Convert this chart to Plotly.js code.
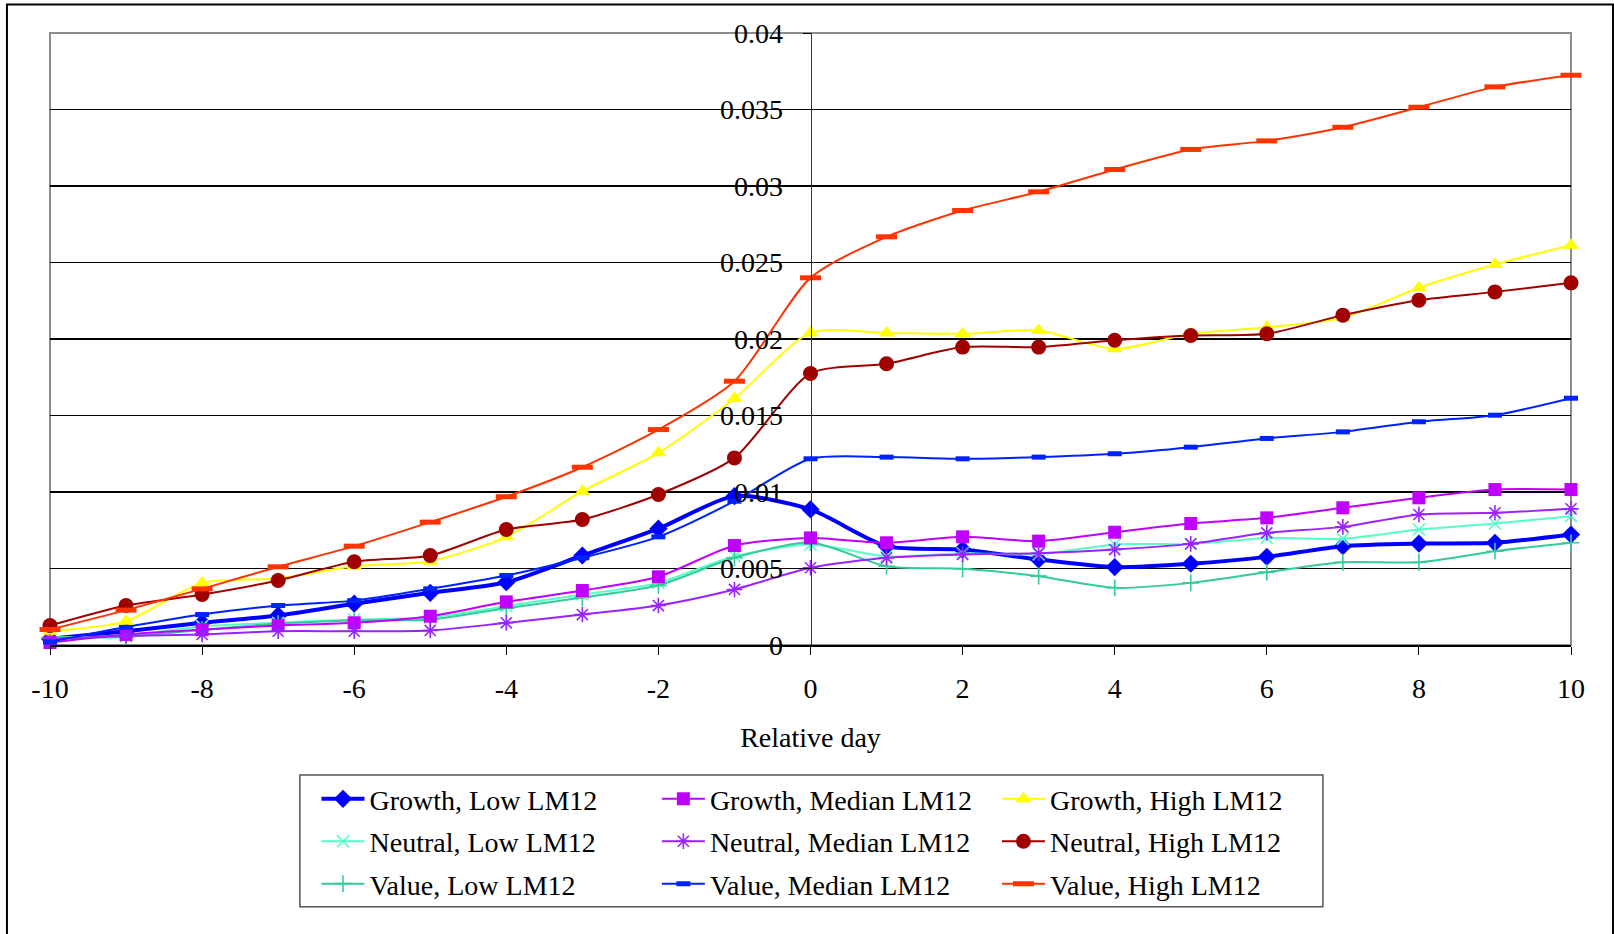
<!DOCTYPE html>
<html>
<head>
<meta charset="utf-8">
<script src="https://cdn.plot.ly/plotly-3.0.1.min.js"></script>
<style>
  html, body { margin: 0; padding: 0; background: #ffffff; }
  #chart { width: 1614px; height: 934px; }
</style>
</head>
<body>
<div id="chart"></div>
<script>
// ---- Data ----
const days = [-10, -9, -8, -7, -6, -5, -4, -3, -2, -1, 0, 1, 2, 3, 4, 5, 6, 7, 8, 9, 10];

const growthLow   = [0.0004, 0.0009, 0.00145, 0.00193, 0.0027, 0.00341, 0.0041, 0.00585, 0.0076, 0.00973, 0.00886, 0.00646, 0.00624, 0.00559, 0.00509, 0.00531, 0.00576, 0.00646, 0.00663, 0.00668, 0.00722];
const growthMed   = [0.00016, 0.00069, 0.001, 0.00127, 0.00145, 0.00188, 0.00282, 0.00356, 0.00446, 0.0065, 0.007, 0.00668, 0.00707, 0.00679, 0.00737, 0.00794, 0.00831, 0.00897, 0.00962, 0.01016, 0.01016];
const growthHigh  = [0.0009, 0.00156, 0.00406, 0.00435, 0.00515, 0.00548, 0.00707, 0.01005, 0.01256, 0.01611, 0.0204, 0.0204, 0.02034, 0.02056, 0.01936, 0.02034, 0.02077, 0.02139, 0.02335, 0.02487, 0.02613];
const neutralLow  = [0.0005, 0.0006, 0.00123, 0.00145, 0.00167, 0.0018, 0.00254, 0.0033, 0.00406, 0.0058, 0.00657, 0.0058, 0.006, 0.00592, 0.00657, 0.0066, 0.007, 0.00694, 0.00755, 0.00794, 0.00842];
const neutralMed  = [0.0004, 0.0006, 0.00069, 0.0009, 0.0009, 0.00095, 0.00145, 0.00199, 0.00258, 0.00363, 0.00505, 0.0057, 0.00592, 0.006, 0.00624, 0.00661, 0.00733, 0.00772, 0.00853, 0.00864, 0.0089];
const neutralHigh = [0.00127, 0.00258, 0.0033, 0.00422, 0.00544, 0.00585, 0.00755, 0.0082, 0.00984, 0.01223, 0.01775, 0.01838, 0.01947, 0.01947, 0.01992, 0.02023, 0.02034, 0.02156, 0.02254, 0.02308, 0.02367];
const valueLow    = [0.0005, 0.00053, 0.001, 0.0014, 0.0016, 0.00167, 0.0024, 0.0031, 0.0039, 0.0057, 0.0067, 0.00515, 0.00498, 0.0045, 0.00374, 0.00406, 0.00476, 0.00541, 0.00541, 0.00613, 0.00668];
const valueMed    = [0.0002, 0.00117, 0.00199, 0.00258, 0.0029, 0.00367, 0.00454, 0.0057, 0.00707, 0.0094, 0.01217, 0.01228, 0.01217, 0.01228, 0.0125, 0.01293, 0.0135, 0.01393, 0.01459, 0.01502, 0.01613];
const valueHigh   = [0.00101, 0.00228, 0.00367, 0.00511, 0.00646, 0.00803, 0.00969, 0.01162, 0.01408, 0.01724, 0.024, 0.02668, 0.0284, 0.02962, 0.03108, 0.03239, 0.03295, 0.03384, 0.03515, 0.03648, 0.03724];

const seriesNames = [
  'Growth, Low LM12', 'Growth, Median LM12', 'Growth, High LM12',
  'Neutral, Low LM12', 'Neutral, Median LM12', 'Neutral, High LM12',
  'Value, Low LM12', 'Value, Median LM12', 'Value, High LM12'
];

const xTickVals = [-10, -8, -6, -4, -2, 0, 2, 4, 6, 8, 10];
const xTickText = ['-10', '-8', '-6', '-4', '-2', '0', '2', '4', '6', '8', '10'];
const yTickVals = [0, 0.005, 0.01, 0.015, 0.02, 0.025, 0.03, 0.035, 0.04];
const yTickText = ['0', '0.005', '0.01', '0.015', '0.02', '0.025', '0.03', '0.035', '0.04'];
const xAxisTitle = 'Relative day';

// ---- Styles ----
const FONT = 'Liberation Serif, Times New Roman, serif';
const FS = 28;

function mk(name, y, color, lw, symbol, msize, mlw, legendId) {
  return {
    type: 'scatter', mode: 'lines+markers', x: days, y: y, name: name,
    legend: legendId, legendgroup: name,
    cliponaxis: false,
    line: { color: color, width: lw, shape: 'spline', smoothing: 0.7 },
    marker: { symbol: symbol, size: msize, color: color, line: { color: color, width: mlw } }
  };
}

const traces = [
  mk(seriesNames[0], growthLow,   '#0000FF', 4,   'diamond',        14, 0,   'legend'),
  mk(seriesNames[3], neutralLow,  '#55FFC8', 2,   'x-thin-open',    12, 1.6, 'legend'),
  mk(seriesNames[6], valueLow,    '#33CC99', 2,   'cross-thin-open',12, 1.6, 'legend'),
  mk(seriesNames[1], growthMed,   '#BF00FF', 2,   'square',         13, 0,   'legend2'),
  mk(seriesNames[4], neutralMed,  '#9922FF', 2,   'asterisk-open',  13, 1.6, 'legend2'),
  mk(seriesNames[7], valueMed,    '#0022FF', 2,   'line-ew-open',   10, 5,   'legend2'),
  mk(seriesNames[2], growthHigh,  '#FFFF00', 2,   'triangle-up',    14, 0,   'legend3'),
  mk(seriesNames[5], neutralHigh, '#A00000', 2,   'circle',         15, 0,   'legend3'),
  mk(seriesNames[8], valueHigh,   '#FF3300', 2,   'line-ew-open',   15, 5,   'legend3')
];

// plot area in pixels: x 50..1571, y 33..645
const legendCommon = {
  font: { family: FONT, size: FS, color: '#000000' },
  bgcolor: 'rgba(0,0,0,0)', borderwidth: 0,
  orientation: 'v', xanchor: 'left', yanchor: 'top',
  itemwidth: 43, tracegroupgap: 3, traceorder: 'grouped',
  itemclick: false, itemdoubleclick: false
};
const legY = -0.211;

const layout = {
  width: 1614, height: 934,
  paper_bgcolor: '#ffffff', plot_bgcolor: '#ffffff',
  font: { family: FONT, size: FS, color: '#000000' },
  margin: { l: 50, r: 43, t: 33, b: 289, autoexpand: false },
  showlegend: true,
  xaxis: {
    range: [-10, 10], domain: [0, 1],
    tickmode: 'array', tickvals: xTickVals, ticktext: xTickText,
    ticks: 'outside', ticklen: 8, tickwidth: 1, tickcolor: '#000000',
    showline: true, linecolor: '#000000', linewidth: 1.5,
    showgrid: false, zeroline: false,
    ticklabelstandoff: 10,
    tickfont: { family: FONT, size: FS, color: '#000000' },
    title: { text: xAxisTitle, font: { family: FONT, size: FS, color: '#000000' }, standoff: 24 },
    fixedrange: true
  },
  yaxis: {
    range: [0, 0.04], anchor: 'free', position: 0.5, side: 'left',
    tickmode: 'array', tickvals: yTickVals, ticktext: yTickText,
    ticks: 'outside', ticklen: 8, tickwidth: 1, tickcolor: '#000000',
    showline: true, linecolor: '#333333', linewidth: 1,
    showgrid: true, gridcolor: '#000000', gridwidth: 1.2,
    zeroline: false,
    ticklabelstandoff: 14,
    tickfont: { family: FONT, size: FS, color: '#000000' },
    fixedrange: true
  },
  legend:  Object.assign({}, legendCommon, { x: 0.1752, y: legY }),
  legend2: Object.assign({}, legendCommon, { x: 0.399, y: legY }),
  legend3: Object.assign({}, legendCommon, { x: 0.6226, y: legY }),
  shapes: [
    // gray plot-area frame
    { type: 'rect', xref: 'paper', yref: 'paper', x0: 0, x1: 1, y0: 0, y1: 1,
      line: { color: '#8c8c8c', width: 2 }, fillcolor: 'rgba(0,0,0,0)', layer: 'between' },
    // legend box
    { type: 'rect', xref: 'paper', yref: 'paper', x0: 0.1643, x1: 0.8369, y0: -0.4275, y1: -0.2124,
      line: { color: '#555555', width: 1.5 }, fillcolor: 'rgba(0,0,0,0)', layer: 'above' },
    // outer chart frame
    { type: 'rect', xref: 'paper', yref: 'paper', x0: -0.0283, x1: 1.0276, y0: -0.48, y1: 1.0467,
      line: { color: '#000000', width: 2 }, fillcolor: 'rgba(0,0,0,0)', layer: 'above' }
  ]
};

Plotly.newPlot('chart', traces, layout, { staticPlot: true, displayModeBar: false });
</script>
</body>
</html>
